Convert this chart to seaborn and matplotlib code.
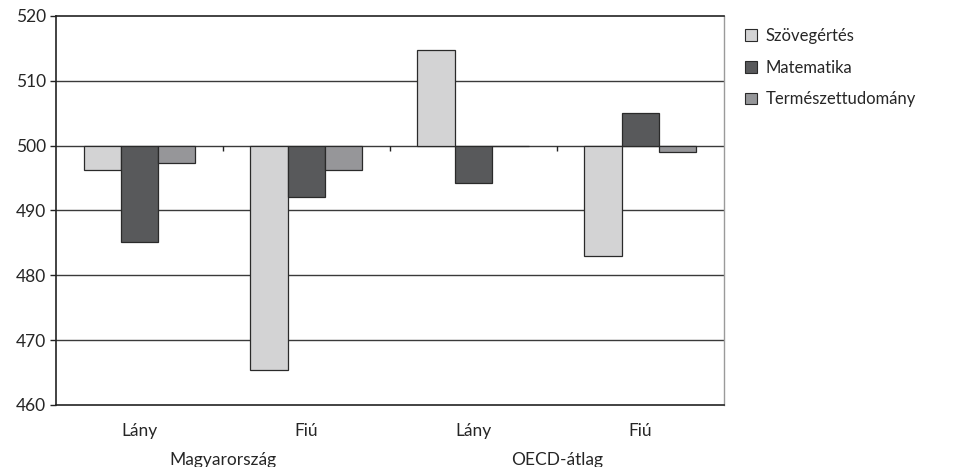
import pandas as pd
import numpy as np
import seaborn as sns
import matplotlib.pyplot as plt
from matplotlib.patches import Patch

# Adatok (PISA pontszámok, 500-as tengelykereszteződés)
orszagok = ['Magyarország', 'OECD-átlag']
nemek = ['Lány', 'Fiú']
teruletek = ['Szövegértés', 'Matematika', 'Természettudomány']
szovegertes = [496.2, 465.4, 514.8, 483.0]
matematika = [485.2, 492.1, 494.2, 505.0]
termeszettud = [497.3, 496.2, 500.0, 499.0]
alap = 500

szinek = ['#d3d3d4', '#58595b', '#959699']

csoportok = [f'{o} {n}' for o in orszagok for n in nemek]
rows = []
for terulet, ertekek in zip(teruletek, [szovegertes, matematika, termeszettud]):
    for cs, v in zip(csoportok, ertekek):
        rows.append({'csoport': cs, 'terulet': terulet, 'elteres': v - alap})
df = pd.DataFrame(rows)

sns.set_theme(style='white')
plt.rcParams['font.family'] = ['Lato', 'DejaVu Sans']

fig = plt.figure(figsize=(9.65, 4.67), dpi=100)
ax = fig.add_axes([0.058, 0.133, 0.692, 0.833])

sns.barplot(data=df, x='csoport', y='elteres', hue='terulet', order=csoportok,
            hue_order=teruletek, palette=szinek, width=0.67, gap=0,
            edgecolor='#2a2a2a', linewidth=0.9, legend=False, ax=ax, zorder=3)

# y tengely: 460-520
ymin, ymax = 460, 520
ax.set_ylim(ymin - alap, ymax - alap)
yt = np.arange(ymin, ymax + 1, 10)
ax.set_yticks(yt - alap)
ax.set_yticklabels([str(v) for v in yt], fontsize=12.5)
for y in yt[1:-1]:
    ax.axhline(y - alap, color='#3a3a3a', lw=1, zorder=1)

ax.set_xlim(-0.5, len(csoportok) - 0.5)
ax.set_xticks(range(len(csoportok)))
ax.set_xticklabels([n for o in orszagok for n in nemek], fontsize=12.5)
ax.tick_params(axis='x', length=0, pad=13)
ax.tick_params(axis='y', length=4, width=1, color='#222222', left=True, pad=3)

# osztásjelek a 500-as vonalon
ax.vlines(np.arange(0.5, len(csoportok) - 0.5, 1), -0.9, 0, color='#222222', lw=1, zorder=2)

for i, o in enumerate(orszagok):
    ax.text(i * 2 + 0.5, -0.122, o, transform=ax.get_xaxis_transform(),
            ha='center', va='top', fontsize=12.5)

for side in ['left', 'bottom', 'top']:
    ax.spines[side].set_color('#222222')
    ax.spines[side].set_linewidth(1.2)
ax.spines['right'].set_color('#9a9a9a')
ax.spines['right'].set_linewidth(1)

ax.set_xlabel('')
ax.set_ylabel('')

handles = [Patch(facecolor=c, edgecolor='#2a2a2a', linewidth=0.8) for c in szinek]
ax.legend(handles, teruletek, loc='upper left', bbox_to_anchor=(1.01, 1.008),
          frameon=False, fontsize=12, handlelength=0.7, handleheight=0.7,
          handletextpad=0.5, labelspacing=0.95)

fig.savefig('out.png', dpi=100)
